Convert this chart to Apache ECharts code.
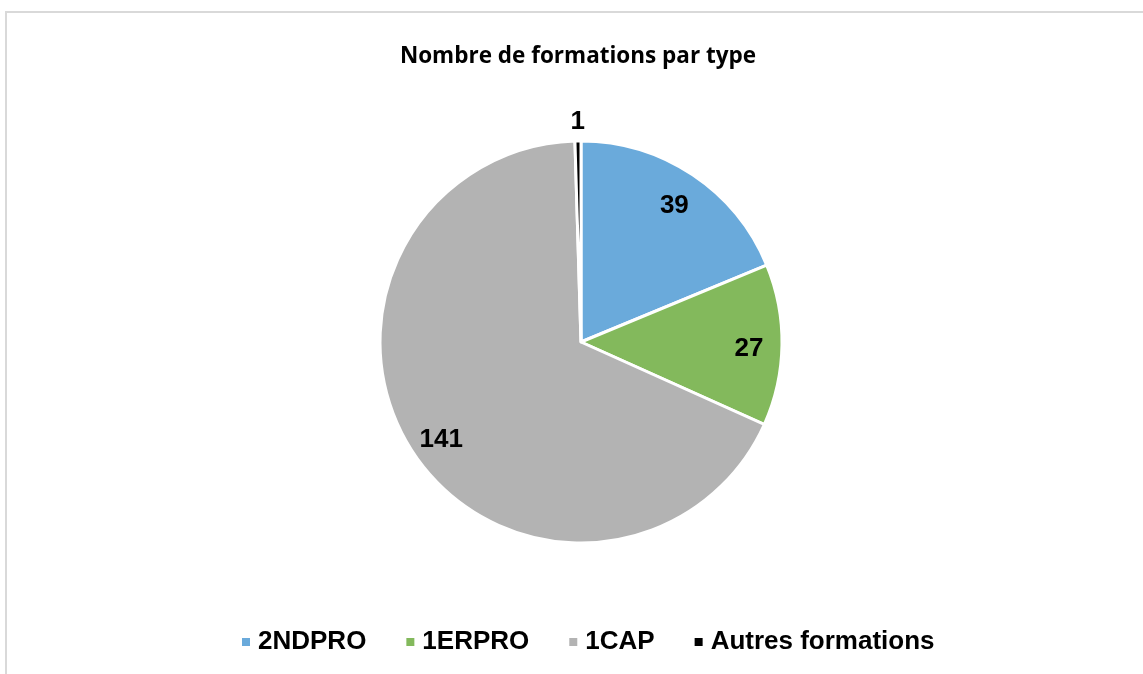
<!DOCTYPE html>
<html lang="fr">
<head>
    <meta charset="UTF-8">
    <title>Nombre de formations par type</title>
    <script src="https://cdn.jsdelivr.net/npm/echarts@6/dist/echarts.min.js"></script>
</head>
<style>
    body{
        margin:0;
        background:#fff;
    }
    #cadre{
        position:absolute;
        left:5px;
        top:11px;
        width:1200px;
        height:700px;
        border-top:2px solid #d9d9d9;
        border-left:2px solid #d9d9d9;
    }
    #chart{
        position:absolute;
        left:0;
        top:0;
        width:1143px;
        height:674px;
    }
</style>
<body>
    <div id="cadre"></div>
    <div id="chart"></div>
</body>
</html>

<script>
    // données
    let categories=['2NDPRO','1ERPRO','1CAP','Autres formations'];
    let values=[39,27,141,1];
    let colors=['#6aaadb','#83b95c','#b3b3b3','#000000'];

    let font='"Liberation Sans", Arial, sans-serif';
    let pieData=categories.map((name,i)=>({name:name,value:values[i],itemStyle:{color:colors[i]}}));

    // anneaux invisibles qui ne servent qu'à placer les étiquettes
    function labelRing(radius,showFn){
        return {
            type:'pie',
            radius:radius,
            center:[581,342],
            startAngle:90,
            silent:true,
            animation:false,
            itemStyle:{color:'rgba(0,0,0,0)',borderWidth:0},
            labelLine:{show:false},
            data:categories.map((name,i)=>({
                name:name,
                value:values[i],
                label:{show:showFn(i)}
            })),
            label:{
                position:'inside',
                formatter:'{v|{c}}',
                rich:{
                    v:{
                        fontFamily:font,
                        fontWeight:'bold',
                        fontSize:26,
                        color:'#000',
                        padding:[8,0,0,0]
                    }
                }
            }
        };
    }

    let chart=echarts.init(document.getElementById('chart'));
    chart.setOption({
        animation:false,
        title:{
            text:'Nombre de formations par type',
            left:578,
            textAlign:'center',
            top:45,
            padding:0,
            textStyle:{
                fontFamily:'"Open Sans", sans-serif',
                fontWeight:'bold',
                fontSize:22.5,
                color:'#000'
            }
        },
        legend:{
            left:237,
            top:624,
            icon:'rect',
            itemWidth:8,
            itemHeight:8,
            itemGap:40,
            selectedMode:false,
            itemStyle:{borderWidth:0},
            data:categories.map((name,i)=>({name:name,itemStyle:{color:colors[i],borderWidth:0}})),
            textStyle:{
                fontFamily:font,
                fontWeight:'bold',
                fontSize:26,
                color:'#000',
                padding:[0,0,0,3]
            }
        },
        series:[
            {
                name:'Formations',
                type:'pie',
                radius:[0,201],
                center:[581,342],
                startAngle:90,
                clockwise:true,
                label:{show:false},
                labelLine:{show:false},
                emphasis:{scale:false},
                itemStyle:{borderColor:'#fff',borderWidth:3},
                data:pieData
            },
            labelRing([130,200],i=>values[i]>5),
            labelRing([200,242],i=>values[i]<=5)
        ]
    });
</script>
